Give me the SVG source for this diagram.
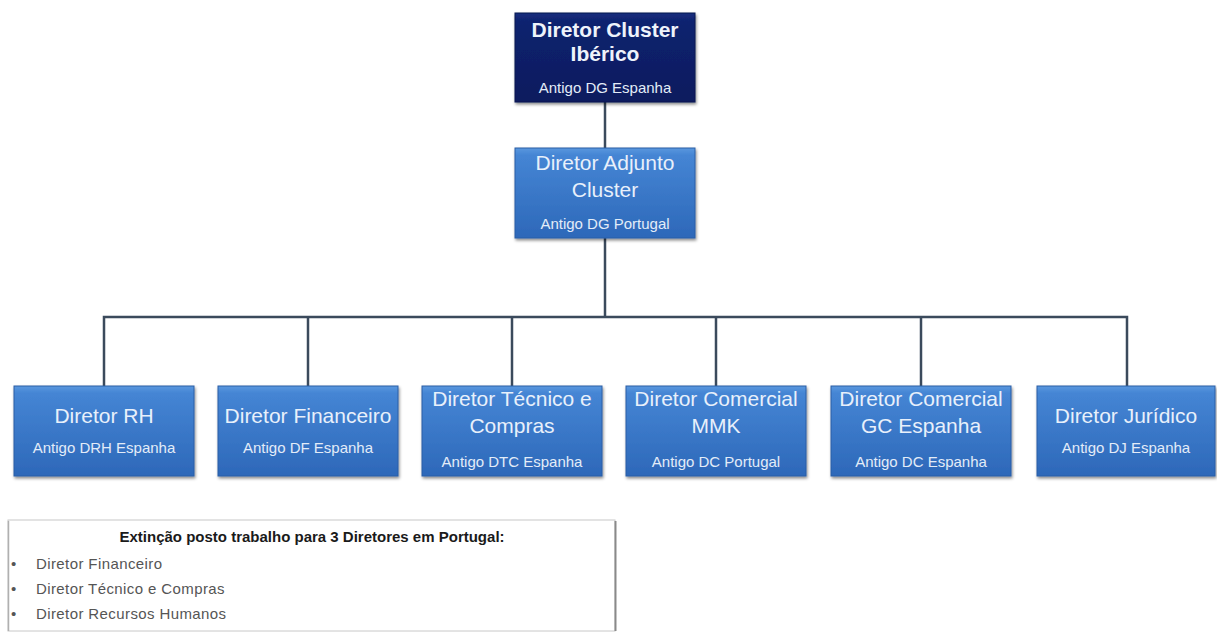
<svg xmlns="http://www.w3.org/2000/svg" width="1217" height="632" viewBox="0 0 1217 632">
<defs>
<linearGradient id="gBlue" x1="0" y1="0" x2="0" y2="1">
<stop offset="0" stop-color="#5a97de"/>
<stop offset="0.08" stop-color="#4585d4"/>
<stop offset="1" stop-color="#2d68b9"/>
</linearGradient>
<linearGradient id="gNavy" x1="0" y1="0" x2="0" y2="1">
<stop offset="0" stop-color="#1a2f7e"/>
<stop offset="0.1" stop-color="#0c226f"/>
<stop offset="1" stop-color="#0a1c5e"/>
</linearGradient>
<filter id="sh" x="-10%" y="-10%" width="125%" height="130%">
<feDropShadow dx="1" dy="2" stdDeviation="1.5" flood-color="#000" flood-opacity="0.45"/>
</filter>
</defs>
<style>
.box{fill:url(#gBlue);stroke:#2a5ea6;stroke-width:1;filter:url(#sh)}
.navy{fill:url(#gNavy);stroke:#081650;stroke-width:1;filter:url(#sh)}
.t{font-family:"Liberation Sans",Arial,sans-serif;font-size:21px;fill:#e8f0fb;text-anchor:middle}
.tb{font-family:"Liberation Sans",Arial,sans-serif;font-size:21px;font-weight:bold;fill:#eef3fb;text-anchor:middle}
.s{font-family:"Liberation Sans",Arial,sans-serif;font-size:15px;fill:#e3ecf8;text-anchor:middle}
.conn{fill:none;stroke:#3b4a5c;stroke-width:2.5}
.note{font-family:"Liberation Sans",Arial,sans-serif;font-size:15px;letter-spacing:0.4px;fill:#555}
.noteb{font-family:"Liberation Sans",Arial,sans-serif;font-size:15px;font-weight:bold;fill:#1a1a1a;text-anchor:middle}
</style>
<rect width="1217" height="632" fill="#fff"/>
<g id="connectors">
<path class="conn" d="M605,102 V148"/>
<path class="conn" d="M605,238 V317"/>
<path class="conn" d="M104,386 V317 H1127 V386"/>
<path class="conn" d="M308,317 V386"/>
<path class="conn" d="M512,317 V386"/>
<path class="conn" d="M716,317 V386"/>
<path class="conn" d="M921,317 V386"/>
</g>
<g id="n-cluster">
<rect class="navy" x="515" y="13" width="180" height="89"/>
<text class="tb" x="605" y="37">Diretor Cluster</text>
<text class="tb" x="605" y="61">Ibérico</text>
<text class="s" x="605" y="93">Antigo DG Espanha</text>
</g>
<g id="n-adjunto">
<rect class="box" x="515" y="148" width="180" height="90"/>
<text class="t" x="605" y="170">Diretor Adjunto</text>
<text class="t" x="605" y="197">Cluster</text>
<text class="s" x="605" y="229">Antigo DG Portugal</text>
</g>
<g id="n-rh">
<rect class="box" x="14" y="386" width="180" height="90"/>
<text class="t" x="104" y="423">Diretor RH</text>
<text class="s" x="104" y="453">Antigo DRH Espanha</text>
</g>
<g id="n-fin">
<rect class="box" x="218" y="386" width="180" height="90"/>
<text class="t" x="308" y="423">Diretor Financeiro</text>
<text class="s" x="308" y="453">Antigo DF Espanha</text>
</g>
<g id="n-tec">
<rect class="box" x="422" y="386" width="180" height="90"/>
<text class="t" x="512" y="406">Diretor Técnico e</text>
<text class="t" x="512" y="433">Compras</text>
<text class="s" x="512" y="467">Antigo DTC Espanha</text>
</g>
<g id="n-mmk">
<rect class="box" x="626" y="386" width="180" height="90"/>
<text class="t" x="716" y="406">Diretor Comercial</text>
<text class="t" x="716" y="433">MMK</text>
<text class="s" x="716" y="467">Antigo DC Portugal</text>
</g>
<g id="n-gc">
<rect class="box" x="831" y="386" width="180" height="90"/>
<text class="t" x="921" y="406">Diretor Comercial</text>
<text class="t" x="921" y="433">GC Espanha</text>
<text class="s" x="921" y="467">Antigo DC Espanha</text>
</g>
<g id="n-jur">
<rect class="box" x="1037" y="386" width="178" height="90"/>
<text class="t" x="1126" y="423">Diretor Jurídico</text>
<text class="s" x="1126" y="453">Antigo DJ Espanha</text>
</g>
<g id="note">
<rect x="8" y="520" width="607" height="111" fill="#fff" stroke="#c8c8c8" stroke-width="1"/>
<line x1="615.5" y1="521" x2="615.5" y2="631" stroke="#8a8a8a" stroke-width="2"/>
<line x1="8.5" y1="521" x2="8.5" y2="631" stroke="#b0b0b0" stroke-width="1.5"/>
<text class="noteb" x="312" y="542">Extinção posto trabalho para 3 Diretores em Portugal:</text>
<text class="note" x="11" y="569">•</text>
<text class="note" x="36" y="569">Diretor Financeiro</text>
<text class="note" x="11" y="594">•</text>
<text class="note" x="36" y="594">Diretor Técnico e Compras</text>
<text class="note" x="11" y="619">•</text>
<text class="note" x="36" y="619">Diretor Recursos Humanos</text>
</g>
</svg>
